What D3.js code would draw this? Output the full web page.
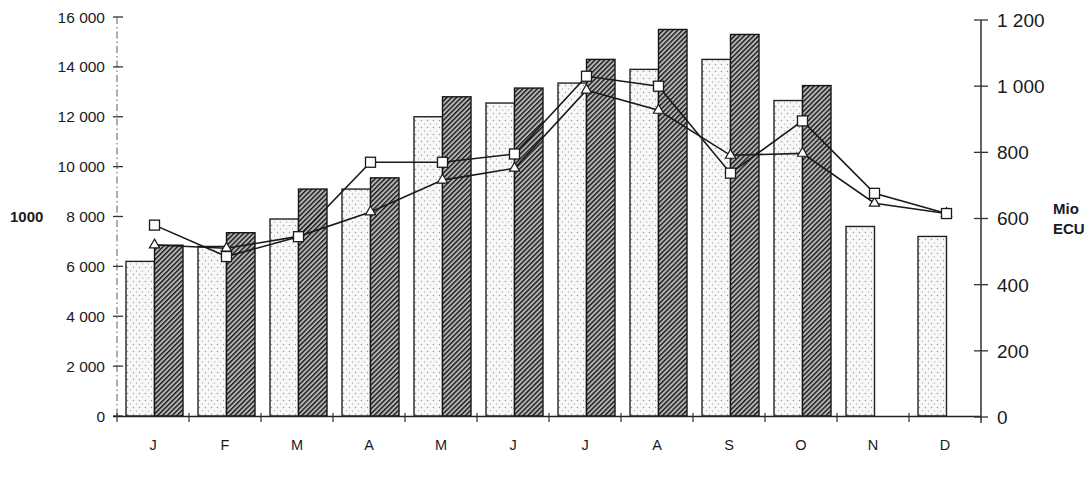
<!DOCTYPE html>
<html>
<head>
<meta charset="utf-8">
<script src="https://cdn.jsdelivr.net/npm/d3@7"></script>
<style>
  html, body { margin: 0; padding: 0; background: #fff; }
  svg { display: block; }
  text { font-family: "Liberation Sans", Arial, sans-serif; fill: #1a1a1a; }
</style>
</head>
<body>
<svg id="chart" width="1092" height="481"></svg>
<script>
// ---- data ----
const months = ["J", "F", "M", "A", "M ", "J ", "J  ", "A ", "S", "O", "N", "D"];
const monthLabels = ["J", "F", "M", "A", "M", "J", "J", "A", "S", "O", "N", "D"];
// left axis (1000)
const lightBars = [6200, 6800, 7900, 9100, 12000, 12550, 13350, 13900, 14300, 12650, 7600, 7200];
const darkBars  = [6850, 7350, 9100, 9550, 12800, 13150, 14300, 15500, 15300, 13250, null, null];
// right axis (Mio ECU)
const squareLine   = [580, 485, 545, 770, 770, 795, 1030, 1000, 737, 895, 676, 615];
const triangleLine = [520, 510, 546, 620, 716, 752, 988, 927, 791, 797, 646, 615];
const leftTicks  = [0, 2000, 4000, 6000, 8000, 10000, 12000, 14000, 16000];
const rightTicks = [0, 200, 400, 600, 800, 1000, 1200];
const leftUnit = "1000";
const rightUnit = ["Mio", "ECU"];

// ---- layout ----
const svg = d3.select("#chart");
const x = d3.scaleBand().domain(months).range([117, 981]).padding(0);
const sub = d3.scaleBand().domain(["light", "dark"]).range([9, 66]).padding(0);
const yL = d3.scaleLinear().domain([0, 16000]).range([416, 17]);
const yR = d3.scaleLinear().domain([0, 1200]).range([417, 20]);
const fmt = v => d3.format(",")(v).replace(/,/g, " ");

// patterns
const defs = svg.append("defs");
const dots = defs.append("pattern").attr("id", "dots")
  .attr("patternUnits", "userSpaceOnUse").attr("width", 6).attr("height", 7);
dots.append("rect").attr("width", 6).attr("height", 7).attr("fill", "#f8f8f8");
dots.append("circle").attr("cx", 1.5).attr("cy", 1.5).attr("r", 0.75).attr("fill", "#999");
dots.append("circle").attr("cx", 4.5).attr("cy", 5).attr("r", 0.65).attr("fill", "#b0b0b0");

const hatch = defs.append("pattern").attr("id", "hatch")
  .attr("patternUnits", "userSpaceOnUse").attr("width", 3.4).attr("height", 3.4)
  .attr("patternTransform", "rotate(45)");
hatch.append("rect").attr("width", 3.4).attr("height", 3.4).attr("fill", "#b5b5b5");
hatch.append("line").attr("x1", 0).attr("y1", 0).attr("x2", 0).attr("y2", 3.4)
  .attr("stroke", "#161616").attr("stroke-width", 2.8);

// ---- left axis ----
const gL = svg.append("g");
gL.append("line").attr("x1", 117).attr("x2", 117).attr("y1", yL(16000)).attr("y2", yL(0))
  .attr("stroke", "#777").attr("stroke-width", 1.2).attr("stroke-dasharray", "7,3,1.5,3");
gL.selectAll("line.t").data(leftTicks).join("line").attr("class", "t")
  .attr("x1", 113).attr("x2", 123).attr("y1", d => yL(d)).attr("y2", d => yL(d))
  .attr("stroke", "#333").attr("stroke-width", 1.3);
gL.selectAll("text").data(leftTicks).join("text")
  .attr("x", 105).attr("y", d => yL(d)).attr("dy", "0.36em")
  .attr("text-anchor", "end").attr("font-size", 15.5).text(fmt);
svg.append("text").attr("x", 10).attr("y", yL(8000)).attr("dy", "0.36em")
  .attr("font-size", 15).attr("font-weight", "bold").text(leftUnit);

// ---- bars ----
const gB = svg.append("g");
gB.selectAll("rect.light").data(lightBars).join("rect").attr("class", "light")
  .attr("x", (d, i) => x(months[i]) + sub("light"))
  .attr("width", sub.bandwidth())
  .attr("y", d => yL(d)).attr("height", d => yL(0) - yL(d))
  .attr("fill", "url(#dots)").attr("stroke", "#222").attr("stroke-width", 1.4);
gB.selectAll("rect.dark").data(darkBars.map((v, i) => ({v, i})).filter(d => d.v != null))
  .join("rect").attr("class", "dark")
  .attr("x", d => x(months[d.i]) + sub("dark"))
  .attr("width", sub.bandwidth())
  .attr("y", d => yL(d.v)).attr("height", d => yL(0) - yL(d.v))
  .attr("fill", "url(#hatch)").attr("stroke", "#161616").attr("stroke-width", 1.4);

// ---- x axis ----
const gX = svg.append("g");
gX.append("line").attr("x1", 113).attr("x2", 981).attr("y1", 416.5).attr("y2", 416.5)
  .attr("stroke", "#222").attr("stroke-width", 1.4);
const bounds = months.map(m => x(m));
gX.selectAll("line.t").data(bounds).join("line").attr("class", "t")
  .attr("x1", d => d).attr("x2", d => d).attr("y1", 413).attr("y2", 422)
  .attr("stroke", "#333").attr("stroke-width", 1.2);
gX.selectAll("text").data(months).join("text")
  .attr("x", d => x(d) + x.bandwidth() / 2).attr("y", 445).attr("dy", "0.36em")
  .attr("text-anchor", "middle").attr("font-size", 14.5).text((d, i) => monthLabels[i]);

// ---- right axis ----
const gR = svg.append("g");
gR.append("line").attr("x1", 981).attr("x2", 981).attr("y1", yR(1200)).attr("y2", 423)
  .attr("stroke", "#222").attr("stroke-width", 1.4);
gR.selectAll("line.t").data(rightTicks).join("line").attr("class", "t")
  .attr("x1", 974).attr("x2", 988).attr("y1", d => yR(d)).attr("y2", d => yR(d))
  .attr("stroke", "#333").attr("stroke-width", 1.3);
gR.selectAll("text").data(rightTicks).join("text")
  .attr("x", 997).attr("y", d => yR(d)).attr("dy", "0.36em")
  .attr("font-size", 19).text(fmt);
svg.append("text").attr("x", 1053).attr("y", 214).attr("font-size", 15)
  .attr("font-weight", "bold").text(rightUnit[0]);
svg.append("text").attr("x", 1053).attr("y", 234).attr("font-size", 15)
  .attr("font-weight", "bold").text(rightUnit[1]);

// ---- lines ----
const cx = i => x(months[i]) + sub("dark");
const line = d3.line().x((d, i) => cx(i)).y(d => yR(d));
const gLn = svg.append("g");
gLn.append("path").datum(triangleLine).attr("d", line)
  .attr("fill", "none").attr("stroke", "#1a1a1a").attr("stroke-width", 1.6);
gLn.append("path").datum(squareLine).attr("d", line)
  .attr("fill", "none").attr("stroke", "#1a1a1a").attr("stroke-width", 1.6);
const tri = d3.symbol().type(d3.symbolTriangle).size(45);
gLn.selectAll("path.tri").data(triangleLine).join("path").attr("class", "tri")
  .attr("d", tri).attr("transform", (d, i) => `translate(${cx(i)},${yR(d)})`)
  .attr("fill", "#fff").attr("stroke", "#1a1a1a").attr("stroke-width", 1.2);
gLn.selectAll("rect.sq").data(squareLine).join("rect").attr("class", "sq")
  .attr("x", (d, i) => cx(i) - 5).attr("y", d => yR(d) - 5)
  .attr("width", 10).attr("height", 10)
  .attr("fill", "#fff").attr("stroke", "#1a1a1a").attr("stroke-width", 1.3);
</script>
</body>
</html>
